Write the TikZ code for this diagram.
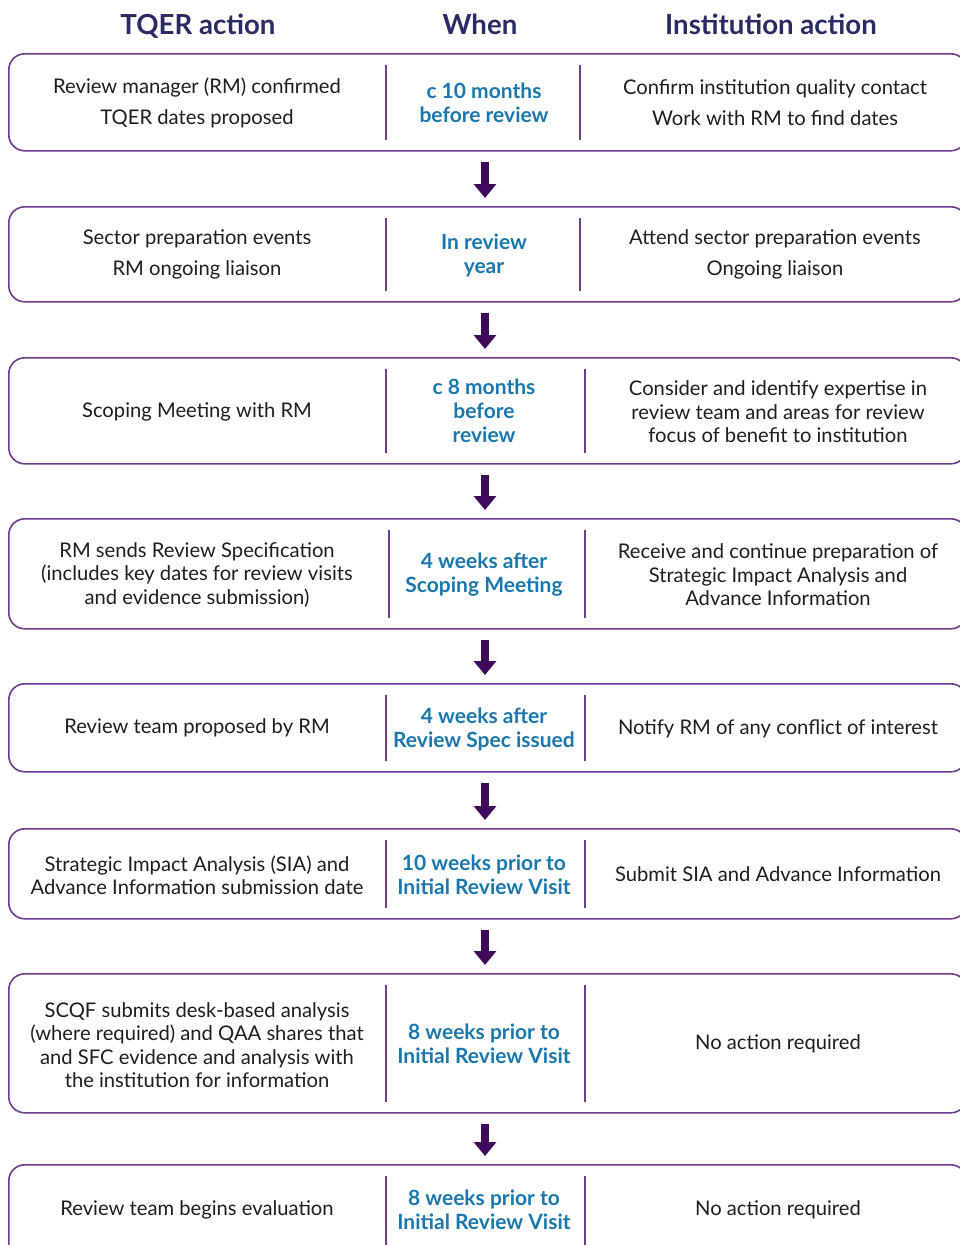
\documentclass[tikz,border=0pt]{standalone}
\usepackage{fontspec}
\setmainfont{Lato}
\usetikzlibrary{arrows.meta}
\definecolor{rowline}{HTML}{6E3C8E}
\definecolor{flowcol}{HTML}{3F0A5C}
\definecolor{headcol}{HTML}{2B2B63}
\definecolor{whencol}{HTML}{1B78AE}
\definecolor{bodycol}{HTML}{1E1E1E}
\tikzset{
  rowbox/.style={draw=rowline, line width=1.6pt, rounded corners=16pt, anchor=north west, minimum width=958pt, inner sep=0pt},
  divider/.style={draw=rowline, line width=1.6pt},
  flow/.style={draw=flowcol, line width=8pt, -{Triangle[width=22pt,length=14pt]}, shorten <=10pt, shorten >=8pt},
  head/.style={font=\fontsize{27.6}{32}\selectfont\bfseries, text=headcol, inner sep=0pt, anchor=base},
  body/.style={font=\fontsize{20.2}{23.5}\selectfont, text=bodycol, align=center, inner sep=0pt, yshift=-2pt},
  when/.style={font=\fontsize{21}{24}\selectfont\bfseries, text=whencol, align=center, inner sep=0pt, yshift=-2pt},
}
\begin{document}
\begin{tikzpicture}[x=1pt,y=-1pt]
\clip (0,0) rectangle (960,1245);
\useasboundingbox (0,0) rectangle (960,1245);
\fill[white] (0,0) rectangle (960,1245);
\coordinate (axis) at (485,0);

% column headings
\node[head] (h1) at (198,34) {TQER action};
\node[head] (h2) at (480,34) {When};
\node[head] (h3) at (771,34) {Institution action};

% row frames
\node[rowbox, minimum height=97pt]  (r1) at (8,53) {};
\node[rowbox, minimum height=95pt]  (r2) at (8,206) {};
\node[rowbox, minimum height=106pt] (r3) at (8,357) {};
\node[rowbox, minimum height=110pt] (r4) at (8,518) {};
\node[rowbox, minimum height=88pt]  (r5) at (8,683) {};
\node[rowbox, minimum height=90pt]  (r6) at (8,828) {};
\node[rowbox, minimum height=139pt] (r7) at (8,973) {};
\node[rowbox, minimum height=120pt] (r8) at (8,1164) {};

% column dividers
\coordinate (da) at (386,0);
\coordinate (db) at (580,0);
\coordinate (dc) at (585,0);
\coordinate (dd) at (389,0);
\foreach \r/\a/\b in {r1/da/db, r2/da/db, r3/da/dc, r4/dd/dc, r5/da/dc, r6/da/dc, r7/da/dc, r8/da/dc}{
  \draw[divider] ([yshift=-12pt]\r.north -| \a) -- ([yshift=12pt]\r.south -| \a);
  \draw[divider] ([yshift=-12pt]\r.north -| \b) -- ([yshift=12pt]\r.south -| \b);
}

% flow arrows
\draw[flow] (r1.south -| axis) -- (r2.north -| axis);
\draw[flow] (r2.south -| axis) -- (r3.north -| axis);
\draw[flow] (r3.south -| axis) -- (r4.north -| axis);
\draw[flow] (r4.south -| axis) -- (r5.north -| axis);
\draw[flow] (r5.south -| axis) -- (r6.north -| axis);
\draw[flow] (r6.south -| axis) -- (r7.north -| axis);
\draw[flow] (r7.south -| axis) -- (r8.north -| axis);

% row 1
\node[body] (a1) at (197,101) {Review manager (RM) confirmed\\[7.5pt]TQER dates proposed};
\node[when] (w1) at (484,101) {c 10 months\\before review};
\node[body] (i1) at (775,101) {Confirm institution quality contact\\[7.5pt]Work with RM to find dates};
% row 2
\node[body] (a2) at (197,252) {Sector preparation events\\[7.5pt]RM ongoing liaison};
\node[when] (w2) at (484,253) {In review\\year};
\node[body] (i2) at (775,252) {Attend sector preparation events\\[7.5pt]Ongoing liaison};
% row 3
\node[body] (a3) at (197,410) {Scoping Meeting with RM};
\node[when] (w3) at (484,409) {c 8 months\\before\\review};
\node[body] (i3) at (778,410) {Consider and identify expertise in\\review team and areas for review\\focus of benefit to institution};
% row 4
\node[body] (a4) at (197,573) {RM sends Review Specification\\(includes key dates for review visits\\and evidence submission)};
\node[when] (w4) at (484,573) {4 weeks after\\Scoping Meeting};
\node[body] (i4) at (778,573) {Receive and continue preparation of\\Strategic Impact Analysis and\\Advance Information};
% row 5
\node[body] (a5) at (197,726) {Review team proposed by RM};
\node[when] (w5) at (484,727) {4 weeks after\\Review Spec issued};
\node[body] (i5) at (778,727) {Notify RM of any conflict of interest};
% row 6
\node[body] (a6) at (197,873) {Strategic Impact Analysis (SIA) and\\Advance Information submission date};
\node[when] (w6) at (484,873) {10 weeks prior to\\Initial Review Visit};
\node[body] (i6) at (778,872) {Submit SIA and Advance Information};
% row 7
\node[body] (a7) at (197,1043) {SCQF submits desk-based analysis\\(where required) and QAA shares that\\and SFC evidence and analysis with\\the institution for information};
\node[when] (w7) at (484,1042) {8 weeks prior to\\Initial Review Visit};
\node[body] (i7) at (778,1042) {No action required};
% row 8
\node[body] (a8) at (197,1208) {Review team begins evaluation};
\node[when] (w8) at (484,1208) {8 weeks prior to\\Initial Review Visit};
\node[body] (i8) at (778,1208) {No action required};
\end{tikzpicture}
\end{document}
